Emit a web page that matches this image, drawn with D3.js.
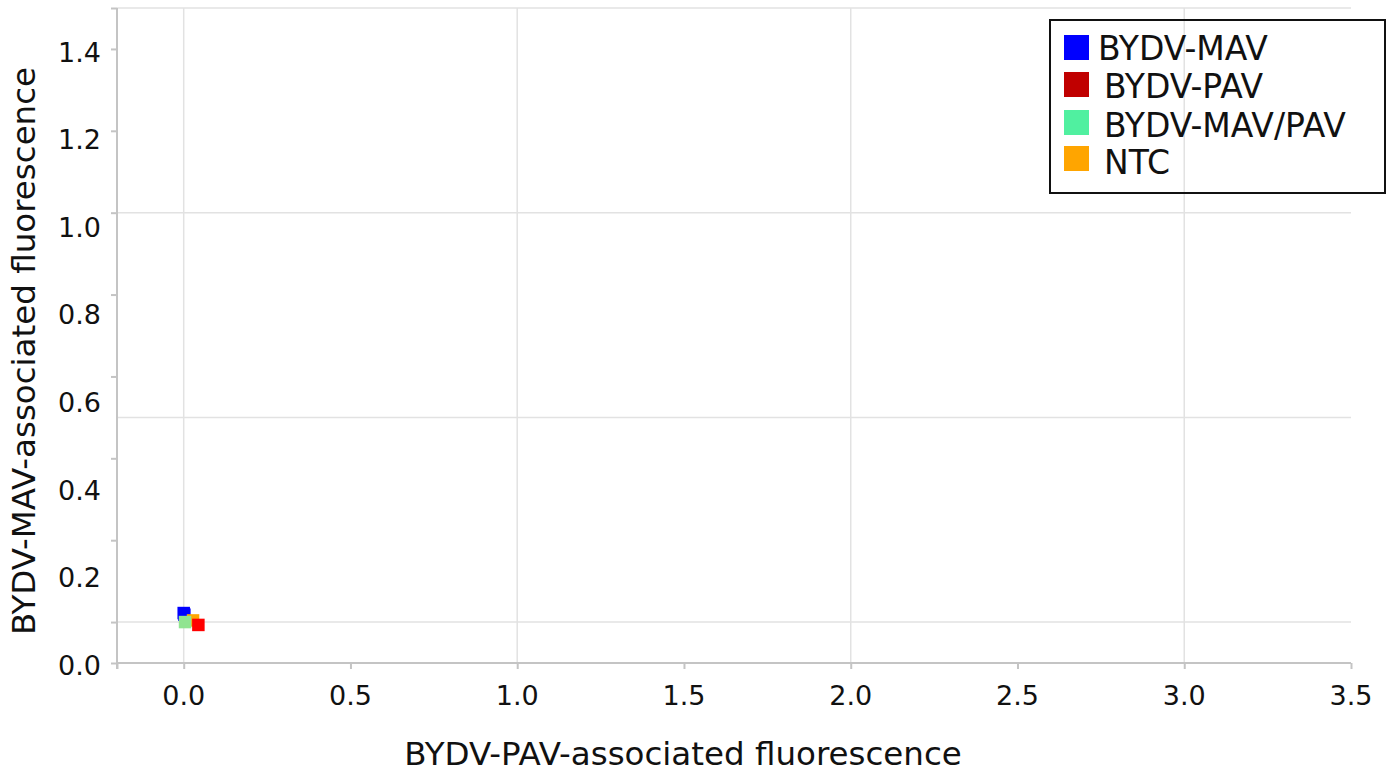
<!DOCTYPE html>
<html>
<head>
<meta charset="utf-8">
<script src="https://cdn.jsdelivr.net/npm/d3@7"></script>
<style>
  html, body { margin: 0; padding: 0; background: #fff; }
  svg { display: block; font-family: "DejaVu Sans", Verdana, sans-serif; }
</style>
</head>
<body>
<svg id="chart" width="1391" height="772"></svg>
<script>
// ---- data ----
const seriesNames = ["BYDV-MAV", "BYDV-PAV", "BYDV-MAV/PAV", "NTC"];
const legendColors = ["#0000ff", "#c00000", "#50f0a0", "#ffa500"];
const markerColors = ["#0000ff", "#ff0000", "#90e490", "#ffa500"];
// x = PAV fluorescence, y = MAV fluorescence
const mavX = [0.000, 0.002];
const mavY = [0.122, 0.118];
const pavX = [0.044];
const pavY = [0.093];
const mixX = [0.004];
const mixY = [0.100];
const ntcX = [0.028];
const ntcY = [0.104];
const xTickLabels = ["0.0", "0.5", "1.0", "1.5", "2.0", "2.5", "3.0", "3.5"];
const yTickLabels = ["0.0", "0.2", "0.4", "0.6", "0.8", "1.0", "1.2", "1.4"];
const xTickValues = [-0.2, 0, 0.5, 1, 1.5, 2, 2.5, 3, 3.5];
const xGridValues = [0, 1, 2, 3];
const yTickValues = [0, 0.1, 0.3, 0.5, 0.7, 0.9, 1.1, 1.3, 1.5, 1.6];
const yGridValues = [0.1, 0.6, 1.1, 1.6];
const xTitle = "BYDV-PAV-associated fluorescence";
const yTitle = "BYDV-MAV-associated fluorescence";

// ---- build ----
const svg = d3.select("#chart");
const x = d3.scaleLinear().domain([-0.2, 3.5]).range([117, 1351]);
const y = d3.scaleLinear().domain([0, 1.6]).range([663, 8]);
const yLab = d3.scaleLinear().domain([0, 1.5]).range([665, 8]);

const axisColor = "#c4c4c4";
const gridColor = "#e2e2e2";

// gridlines
svg.append("g").selectAll("line.vg").data(xGridValues).join("line")
  .attr("x1", d => x(d)).attr("x2", d => x(d))
  .attr("y1", y(1.6)).attr("y2", y(0))
  .attr("stroke", gridColor).attr("stroke-width", 1.5);
svg.append("g").selectAll("line.hg").data(yGridValues).join("line")
  .attr("x1", x(-0.2)).attr("x2", x(3.5))
  .attr("y1", d => y(d)).attr("y2", d => y(d))
  .attr("stroke", gridColor).attr("stroke-width", 1.5);

// x axis
const xAxis = d3.axisBottom(x).tickValues(xTickValues).tickSize(6).tickFormat("");
const gx = svg.append("g").attr("transform", `translate(0,${y(0)})`).call(xAxis);
gx.select(".domain").attr("stroke", axisColor).attr("stroke-width", 2).attr("d", `M${x(-0.2)},0H${x(3.5)}`);
gx.selectAll(".tick line").attr("stroke", axisColor).attr("stroke-width", 2);
svg.append("g").selectAll("text").data(xTickLabels).join("text")
  .attr("x", d => x(+d)).attr("y", 705)
  .attr("text-anchor", "middle").attr("font-size", 27).attr("fill", "#111")
  .text(d => d);

// y axis
const yAxis = d3.axisLeft(y).tickValues(yTickValues).tickSize(6).tickFormat("");
const gy = svg.append("g").attr("transform", `translate(${x(-0.2)},0)`).call(yAxis);
gy.select(".domain").attr("stroke", axisColor).attr("stroke-width", 2).attr("d", `M0,${y(1.6)}V${y(0) + 6}`);
gy.selectAll(".tick line").attr("stroke", axisColor).attr("stroke-width", 2);
svg.append("g").selectAll("text").data(yTickLabels).join("text")
  .attr("x", 101).attr("y", d => yLab(+d)).attr("dy", "0.36em")
  .attr("text-anchor", "end").attr("font-size", 27).attr("fill", "#111")
  .text(d => d);

// titles
svg.append("text").attr("x", 683).attr("y", 765).attr("text-anchor", "middle")
  .attr("font-size", 32.5).attr("fill", "#111").text(xTitle);
svg.append("text").attr("transform", "translate(35,351) rotate(-90)").attr("text-anchor", "middle")
  .attr("font-size", 32.5).attr("fill", "#111").text(yTitle);

// points (draw order: MAV, NTC, MAV/PAV, PAV)
const series = [
  {i: 0, xs: mavX, ys: mavY},
  {i: 3, xs: ntcX, ys: ntcY},
  {i: 2, xs: mixX, ys: mixY},
  {i: 1, xs: pavX, ys: pavY}
];
const ms = 12.5;
const gp = svg.append("g");
series.forEach(s => {
  const pts = s.xs.map((v, k) => [v, s.ys[k]]);
  gp.append("g").selectAll("rect").data(pts).join("rect")
    .attr("x", d => x(d[0]) - ms / 2).attr("y", d => y(d[1]) - ms / 2)
    .attr("width", ms).attr("height", ms)
    .attr("fill", markerColors[s.i]);
});

// legend
const lg = svg.append("g");
lg.append("rect").attr("x", 1050).attr("y", 20).attr("width", 335).attr("height", 173)
  .attr("fill", "none").attr("stroke", "#111").attr("stroke-width", 2);
const swY = [35, 72, 110, 146];
const txX = [1098, 1104, 1104, 1104];
const txY = [60, 98, 137, 174];
seriesNames.forEach((n, i) => {
  lg.append("rect").attr("x", 1064).attr("y", swY[i]).attr("width", 25).attr("height", 25)
    .attr("fill", legendColors[i]);
  lg.append("text").attr("x", txX[i]).attr("y", txY[i]).attr("font-size", 33)
    .attr("fill", "#111").text(n);
});
</script>
</body>
</html>
